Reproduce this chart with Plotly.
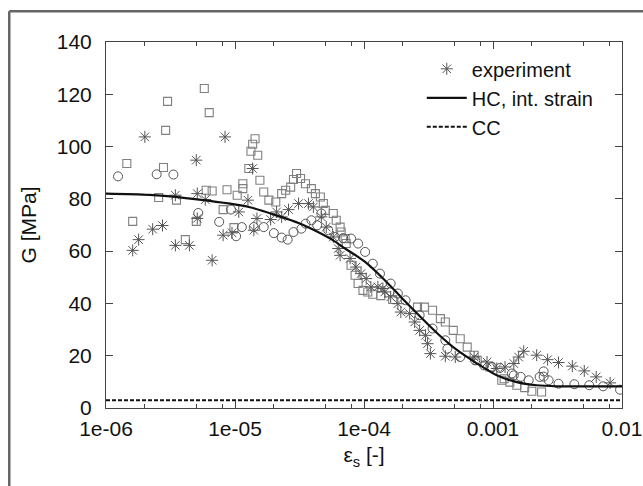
import plotly.graph_objects as go

# experiment, asterisks (strain [-], G [MPa])
star_eps = [1.61e-6, 1.79e-6, 2.0e-6, 2.30e-6, 2.74e-6, 3.45e-6, 3.45e-6, 4.43e-6, 5.01e-6, 5.10e-6,
            5.10e-6, 5.88e-6, 6.65e-6, 8.09e-6, 8.37e-6, 9.48e-6, 1.07e-5, 1.26e-5, 1.37e-5, 1.40e-5,
            1.48e-5, 1.89e-5, 2.10e-5, 2.30e-5, 2.60e-5, 3.11e-5, 3.71e-5, 4.05e-5, 4.67e-5, 5.10e-5,
            5.78e-5, 6.31e-5, 6.53e-5, 7.80e-5, 8.67e-5, 9.48e-5, 1.04e-4, 1.13e-4, 1.28e-4, 1.40e-4,
            1.45e-4, 1.61e-4, 1.83e-4, 1.93e-4, 2.26e-4, 2.47e-4, 2.70e-4, 3.00e-4, 3.11e-4, 3.27e-4,
            4.27e-4, 5.10e-4, 7.14e-4, 8.99e-4, 1.07e-3, 1.24e-3, 1.45e-3, 1.58e-3, 1.73e-3, 2.18e-3,
            2.65e-3, 3.22e-3, 4.12e-3, 5.10e-3, 6.31e-3, 8.09e-3]
star_g = [60.3, 64.4, 103.7, 68.4, 69.8, 62.2, 81.4, 62.2, 94.8, 82.0,
          72.5, 79.7, 56.5, 66.1, 103.7, 67.0, 75.0, 79.5, 91.6, 68.0,
          72.5, 72.1, 75.0, 73.1, 75.9, 78.2, 78.2, 76.9, 73.1, 69.2,
          65.4, 61.0, 58.4, 57.2, 53.9, 51.4, 49.5, 46.3, 46.3, 45.7,
          44.4, 42.5, 39.9, 36.7, 36.1, 32.9, 29.7, 27.8, 24.6, 20.8,
          19.8, 19.5, 19.5, 17.6, 15.1, 15.7, 17.0, 19.5, 21.7, 20.2,
          18.5, 17.4, 16.0, 14.2, 11.9, 9.6]

# experiment, squares
sq_eps = [1.45e-6, 1.61e-6, 2.56e-6, 2.79e-6, 2.90e-6, 3.00e-6, 3.52e-6, 4.12e-6, 5.01e-6, 5.78e-6,
          5.98e-6, 6.31e-6, 6.65e-6, 8.09e-6, 8.67e-6, 9.82e-6, 1.04e-5, 1.15e-5, 1.15e-5, 1.28e-5,
          1.33e-5, 1.37e-5, 1.43e-5, 1.50e-5, 1.56e-5, 1.67e-5, 1.83e-5, 2.07e-5, 2.30e-5, 2.47e-5,
          2.70e-5, 2.84e-5, 3.00e-5, 3.22e-5, 3.52e-5, 3.91e-5, 4.20e-5, 4.59e-5, 4.84e-5, 5.01e-5,
          5.78e-5, 6.09e-5, 6.53e-5, 6.65e-5, 7.14e-5, 7.28e-5, 7.94e-5, 8.53e-5, 9.00e-5, 9.82e-5,
          1.07e-4, 1.17e-4, 1.35e-4, 1.67e-4, 2.60e-4, 2.94e-4, 3.40e-4, 3.91e-4, 4.27e-4, 4.92e-4,
          5.57e-4, 6.31e-4, 7.14e-4, 7.54e-4, 9.48e-4, 1.17e-3, 1.22e-3, 1.35e-3, 1.53e-3, 1.76e-3,
          2.0e-3, 2.38e-3]
sq_g = [93.5, 71.4, 80.5, 92.0, 106.2, 117.3, 79.5, 64.4, 71.4, 122.2,
        83.3, 113.0, 83.0, 75.9, 83.5, 69.0, 81.4, 85.8, 83.9, 91.6,
        98.2, 100.9, 103.0, 96.7, 87.1, 82.6, 79.5, 78.8, 82.0, 83.3,
        84.5, 87.4, 89.7, 87.8, 85.8, 83.9, 82.0, 80.7, 78.2, 75.6,
        74.4, 71.8, 69.2, 67.3, 64.8, 62.9, 54.6, 50.8, 47.6, 45.0,
        44.4, 43.5, 43.0, 41.5, 38.6, 38.6, 37.4, 34.2, 32.9, 29.7,
        26.5, 23.3, 20.2, 18.2, 15.7, 10.6, 11.2, 9.9, 8.7, 7.8,
        6.4, 6.1]

# experiment, circles
circ_eps = [1.24e-6, 2.47e-6, 3.33e-6, 5.19e-6, 7.54e-6, 9.31e-6, 1.02e-5, 1.13e-5, 1.40e-5, 1.67e-5,
            2.0e-5, 2.30e-5, 2.56e-5, 2.84e-5, 3.27e-5, 3.52e-5, 3.91e-5, 4.34e-5, 4.67e-5, 5.28e-5,
            5.98e-5, 6.89e-5, 7.94e-5, 9.0e-5, 1.02e-4, 1.17e-4, 1.33e-4, 1.61e-4, 1.83e-4, 2.10e-4,
            2.70e-4, 3.40e-4, 4.27e-4, 4.43e-4, 5.57e-4, 7.28e-4, 8.53e-4, 9.82e-4, 1.13e-3, 1.40e-3,
            1.45e-3, 1.64e-3, 1.89e-3, 2.30e-3, 2.47e-3, 2.47e-3, 2.70e-3, 3.22e-3, 4.27e-3, 5.57e-3,
            7.14e-3, 9.66e-3]
circ_g = [88.6, 89.4, 89.3, 74.6, 71.2, 75.9, 65.7, 69.2, 69.2, 69.2,
          66.9, 65.2, 64.4, 67.3, 68.6, 70.5, 71.8, 69.9, 74.4, 68.0,
          65.4, 65.0, 64.8, 62.9, 59.7, 55.2, 51.4, 47.6, 43.8, 41.2,
          35.5, 30.4, 25.9, 22.7, 19.5, 18.2, 16.3, 15.7, 15.3, 13.2,
          12.5, 11.9, 10.6, 11.9, 14.0, 12.0, 10.6, 9.3, 9.1, 8.7,
          8.3, 7.0]

# HC, int. strain model curve
hc_eps = [1e-6, 2.18e-6, 5.28e-6, 1.28e-5, 2.18e-5, 3.11e-5, 3.91e-5, 5.57e-5, 7.14e-5, 1.02e-4,
          1.45e-4, 1.93e-4, 2.30e-4, 3.71e-4, 5.28e-4, 7.54e-4, 1.07e-3, 1.53e-3, 2.18e-3, 3.11e-3,
          1e-2]
hc_g = [82.0, 81.5, 79.7, 76.9, 73.4, 70.8, 68.6, 64.6, 61.0, 55.9,
        48.9, 42.5, 38.6, 28.5, 22.1, 17.0, 12.5, 9.9, 8.7, 8.3,
        8.3]

# CC model
cc_eps = [1e-6, 1e-2]
cc_g = [3.0, 3.0]

x_tickvals = [1e-6, 1e-5, 1e-4, 1e-3, 1e-2]
x_ticktext = ["1e-06", "1e-05", "1e-04", "0.001", "0.01"]
x_minor = [m * 10.0 ** e for e in range(-6, -2) for m in (2, 5, 8)]
y_tickvals = [0, 20, 40, 60, 80, 100, 120, 140]

FONT = "Liberation Sans, Arial, Helvetica, sans-serif"
AXIS_COLOR = "#444444"
TEXT_COLOR = "#111111"

fig = go.Figure()

fig.add_trace(go.Scatter(
    x=sq_eps, y=sq_g, mode="markers", showlegend=False,
    marker=dict(symbol="square-open", size=8, color="#808080", line=dict(width=1.1)),
))
fig.add_trace(go.Scatter(
    x=circ_eps, y=circ_g, mode="markers", showlegend=False,
    marker=dict(symbol="circle-open", size=9, color="#555555", line=dict(width=1)),
))
fig.add_trace(go.Scatter(
    x=star_eps, y=star_g, mode="markers", name="experiment",
    marker=dict(symbol="asterisk-open", size=10, color="#555555", line=dict(width=1, color="#555555")),
))
fig.add_trace(go.Scatter(
    x=hc_eps, y=hc_g, mode="lines", name="HC, int. strain",
    line=dict(color="#111111", width=2.2, shape="spline", smoothing=0.8),
))
fig.add_trace(go.Scatter(
    x=cc_eps, y=cc_g, mode="lines", name="CC",
    line=dict(color="#111111", width=2, dash="4px,2px"),
))

fig.update_xaxes(
    type="log", range=[-6, -2], automargin=False,
    tickvals=x_tickvals, ticktext=x_ticktext, ticklabeloverflow="allow",
    ticks="inside", ticklen=7, tickcolor=AXIS_COLOR,
    minor=dict(tickvals=x_minor, ticks="inside", ticklen=4, tickcolor=AXIS_COLOR),
    showline=True, linecolor=AXIS_COLOR, linewidth=1, mirror="ticks",
    showgrid=False, zeroline=False,
    tickfont=dict(size=21, color=TEXT_COLOR), ticklabelstandoff=2,
    title=dict(text="ε<sub>s</sub> [-]", font=dict(size=21, color=TEXT_COLOR), standoff=8),
)
fig.update_yaxes(
    range=[0, 140], tickvals=y_tickvals, automargin=False,
    ticks="inside", ticklen=7, tickcolor=AXIS_COLOR,
    showline=True, linecolor=AXIS_COLOR, linewidth=1, mirror="ticks",
    showgrid=False, zeroline=False,
    tickfont=dict(size=21, color=TEXT_COLOR), ticklabelstandoff=9,
    title=dict(text="G [MPa]", font=dict(size=21, color=TEXT_COLOR), standoff=14),
)

# outer frame of the original figure (left and top edges only)
fig.add_shape(type="line", xref="paper", yref="paper", x0=-0.1875, x1=-0.1875, y0=-0.25, y1=1.084,
              line=dict(color="#666666", width=2.5))
fig.add_shape(type="line", xref="paper", yref="paper", x0=-0.1875, x1=1.05, y0=1.084, y1=1.084,
              line=dict(color="#666666", width=2.5))

fig.update_layout(
    width=643, height=486,
    margin=dict(l=106, r=21, t=42, b=78),
    paper_bgcolor="white", plot_bgcolor="white",
    font=dict(family=FONT, size=21, color=TEXT_COLOR),
    legend=dict(x=0.955, y=0.98, xanchor="right", yanchor="top",
                bgcolor="rgba(0,0,0,0)", font=dict(size=20), itemwidth=40,
                tracegroupgap=0),
)

fig.write_html(
    "out.html",
    config={"displayModeBar": False},
    post_script="document.body.style.margin='0';document.body.style.overflow='hidden';",
)
